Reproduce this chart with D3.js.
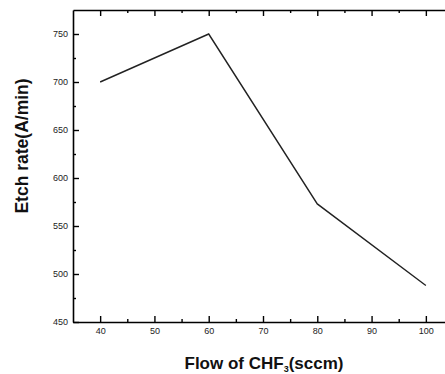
<!DOCTYPE html>
<html>
<head>
<meta charset="utf-8">
<script src="https://cdn.jsdelivr.net/npm/d3@7"></script>
<style>
  body { margin: 0; background: #fff; }
  svg { display: block; }
  .axis path { stroke: #000; stroke-width: 1.6; }
  .axis line { stroke: #000; stroke-width: 1.4; }
  .axis text { font-family: "Liberation Sans", Arial, sans-serif; font-size: 9px; fill: #222; }
  .title { font-family: "Liberation Sans", Arial, sans-serif; fill: #111; font-weight: bold; }
</style>
</head>
<body>
<div id="chart"></div>
<script>
// data
var flow = [40, 60, 80, 100];
var etchRate = [700, 750, 573, 488];
var xTicks = [40, 50, 60, 70, 80, 90, 100];
var xMinor = [45, 55, 65, 75, 85, 95];
var yTicks = [450, 500, 550, 600, 650, 700, 750];
var yMinor = [475, 525, 575, 625, 675, 725];

var W = 445, H = 374;
var pLeft = 73, pTop = 10, pRight = 453, pBottom = 322;

var svg = d3.select("#chart").append("svg")
	.attr("width", W)
	.attr("height", H);

var x = d3.scaleLinear().domain([35, 105]).range([pLeft, pRight]);
var y = d3.scaleLinear().domain([450, 775]).range([pBottom, pTop]);

// minor ticks first, then major (all pointing inward)
svg.append("g").attr("class", "axis")
	.attr("transform", "translate(0," + pBottom + ")")
	.call(d3.axisBottom(x).tickValues(xMinor).tickSize(-3).tickFormat(""))
	.select(".domain").remove();
svg.append("g").attr("class", "axis")
	.attr("transform", "translate(0," + pBottom + ")")
	.call(d3.axisBottom(x).tickValues(xTicks).tickSizeInner(-6).tickSizeOuter(0).tickPadding(6));

svg.append("g").attr("class", "axis")
	.attr("transform", "translate(0," + pTop + ")")
	.call(d3.axisTop(x).tickValues(xMinor).tickSize(-3).tickFormat(""))
	.select(".domain").remove();
svg.append("g").attr("class", "axis")
	.attr("transform", "translate(0," + pTop + ")")
	.call(d3.axisTop(x).tickValues(xTicks).tickSizeInner(-6).tickSizeOuter(0).tickFormat(""));

svg.append("g").attr("class", "axis")
	.attr("transform", "translate(" + pLeft + ",0)")
	.call(d3.axisLeft(y).tickValues(yMinor).tickSize(-3).tickFormat(""))
	.select(".domain").remove();
svg.append("g").attr("class", "axis")
	.attr("transform", "translate(" + pLeft + ",0)")
	.call(d3.axisLeft(y).tickValues(yTicks).tickSizeInner(-6).tickSizeOuter(0).tickPadding(5));

// the line
var line = d3.line()
	.x(function(d, i) { return x(flow[i]); })
	.y(function(d) { return y(d); });

svg.append("path")
	.datum(etchRate)
	.attr("d", line)
	.attr("fill", "none")
	.attr("stroke", "#222")
	.attr("stroke-width", 1.4);

// axis titles
svg.append("text")
	.attr("class", "title")
	.attr("transform", "translate(28,146) rotate(-90)")
	.attr("text-anchor", "middle")
	.style("font-size", "17.5px")
	.text("Etch rate(A/min)");

var xt = svg.append("text")
	.attr("class", "title")
	.attr("x", 264)
	.attr("y", 369)
	.attr("text-anchor", "middle")
	.style("font-size", "17px");
xt.append("tspan").text("Flow of CHF");
xt.append("tspan").attr("dy", 3).style("font-size", "9px").text("3");
xt.append("tspan").attr("dy", -3).text("(sccm)");
</script>
</body>
</html>
